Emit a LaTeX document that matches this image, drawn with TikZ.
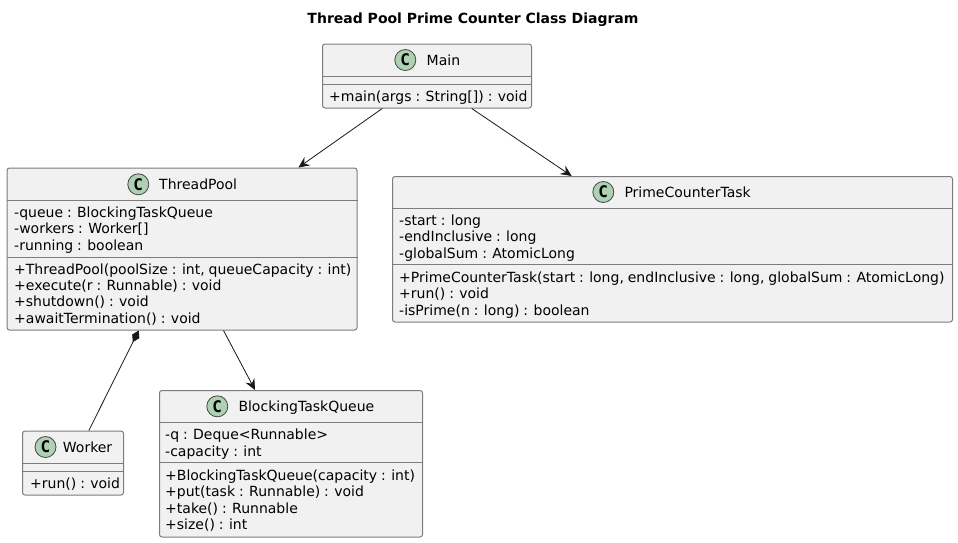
\documentclass[tikz,border=0pt]{standalone}
\usepackage{fontspec}
\setmainfont{DejaVu Sans}[WordSpace=0.88,BoldFeatures={WordSpace=1}]
\newfontfamily\spotfont{DejaVu Sans Mono}
\usetikzlibrary{arrows.meta,positioning}
\definecolor{boxfill}{HTML}{F1F1F1}
\definecolor{boxline}{HTML}{7C7C7C}
\definecolor{inkline}{HTML}{181818}
\definecolor{spotfill}{HTML}{ADD1B2}

\begin{document}
\begin{tikzpicture}[
  x=1pt,y=-1pt,
  font=\fontsize{14}{16}\selectfont,
  classbox/.style={rectangle,draw=boxline,line width=1pt,fill=boxfill,rounded corners=2.5pt,inner sep=0pt},
  spot/.style={circle,draw=inkline!80,line width=0.8pt,fill=spotfill,minimum size=21pt,inner sep=0pt,font=\fontsize{16}{16}\selectfont\spotfont\bfseries},
  sep/.style={draw=boxline,line width=1pt},
  lab/.style={anchor=base west,inner sep=0pt},
  head/.style={anchor=base,inner sep=0pt,font=\fontsize{14}{16}\selectfont\bfseries},
  arc/.style={-{Stealth[length=11pt,width=10pt,inset=4pt]},draw=inkline,line width=0.8pt},
  comp/.style={{Diamond[length=13pt,width=8pt]}-,draw=inkline,line width=0.8pt},
]
\useasboundingbox (0,0) rectangle (958,542);
\node[head] (title) at (473,23) {Thread Pool Prime Counter Class Diagram};
% main
\node[classbox,minimum width=209pt,minimum height=64pt] (main) at (427,76) {};
\draw[sep] (main.west |- 0,76.5) -- (main.east |- 0,76.5);
\draw[sep] (main.west |- 0,84.5) -- (main.east |- 0,84.5);
\node[spot] (mainC) at (405.3,60) {C};
\node[lab] (mainN) at (426.5,65) {Main};
\node[lab] (main1) at (329,101) {+main(args : String[]) : void};
% thread pool
\node[classbox,minimum width=350pt,minimum height=162pt] (pool) at (182,249) {};
\draw[sep] (pool.west |- 0,200.5) -- (pool.east |- 0,200.5);
\draw[sep] (pool.west |- 0,257.5) -- (pool.east |- 0,257.5);
\node[spot] (poolC) at (138.3,184.3) {C};
\node[lab] (poolN) at (159,189) {ThreadPool};
\node[lab] (pool1) at (14,217) {-queue : BlockingTaskQueue};
\node[lab] (pool2) at (14,233) {-workers : Worker[]};
\node[lab] (pool3) at (14,250) {-running : boolean};
\node[lab] (pool4) at (14,274) {+ThreadPool(poolSize : int, queueCapacity : int)};
\node[lab] (pool5) at (14,290) {+execute(r : Runnable) : void};
\node[lab] (pool6) at (14,306) {+shutdown() : void};
\node[lab] (pool7) at (14,323) {+awaitTermination() : void};
% prime task
\node[classbox,minimum width=560pt,minimum height=145.5pt] (prime) at (672.5,249.25) {};
\draw[sep] (prime.west |- 0,208.5) -- (prime.east |- 0,208.5);
\draw[sep] (prime.west |- 0,264.5) -- (prime.east |- 0,264.5);
\node[spot] (primeC) at (603.3,192) {C};
\node[lab] (primeN) at (624.3,197) {PrimeCounterTask};
\node[lab] (prime1) at (399,225) {-start : long};
\node[lab] (prime2) at (399,241) {-endInclusive : long};
\node[lab] (prime3) at (399,258) {-globalSum : AtomicLong};
\node[lab] (prime4) at (399,282) {+PrimeCounterTask(start : long, endInclusive : long, globalSum : AtomicLong)};
\node[lab] (prime5) at (399,298) {+run() : void};
\node[lab] (prime6) at (399,315) {-isPrime(n : long) : boolean};
% worker
\node[classbox,minimum width=101pt,minimum height=64pt] (worker) at (73,463) {};
\draw[sep] (worker.west |- 0,463.5) -- (worker.east |- 0,463.5);
\draw[sep] (worker.west |- 0,471.5) -- (worker.east |- 0,471.5);
\node[spot] (workerC) at (45.5,447) {C};
\node[lab] (workerN) at (62.7,452) {Worker};
\node[lab] (worker1) at (30,488) {+run() : void};
% queue
\node[classbox,minimum width=263pt,minimum height=146.5pt] (queue) at (291,463.75) {};
\draw[sep] (queue.west |- 0,422.5) -- (queue.east |- 0,422.5);
\draw[sep] (queue.west |- 0,462.5) -- (queue.east |- 0,462.5);
\node[spot] (queueC) at (217.3,406.3) {C};
\node[lab] (queueN) at (238.3,411) {BlockingTaskQueue};
\node[lab] (queue1) at (165,439) {-q : Deque<Runnable>};
\node[lab] (queue2) at (165,456) {-capacity : int};
\node[lab] (queue3) at (165,480) {+BlockingTaskQueue(capacity : int)};
\node[lab] (queue4) at (165,496) {+put(task : Runnable) : void};
\node[lab] (queue5) at (165,513) {+take() : Runnable};
\node[lab] (queue6) at (165,529) {+size() : int};
% links
\draw[arc] (main.-144) -- (pool.35.4);
\draw[arc] (main.-36.7) -- (prime.144.9);
\draw[comp] (pool.-118) -- (worker.64.9);
\draw[arc] (pool.-63.2) -- (queue.116.8);
\end{tikzpicture}
\end{document}
